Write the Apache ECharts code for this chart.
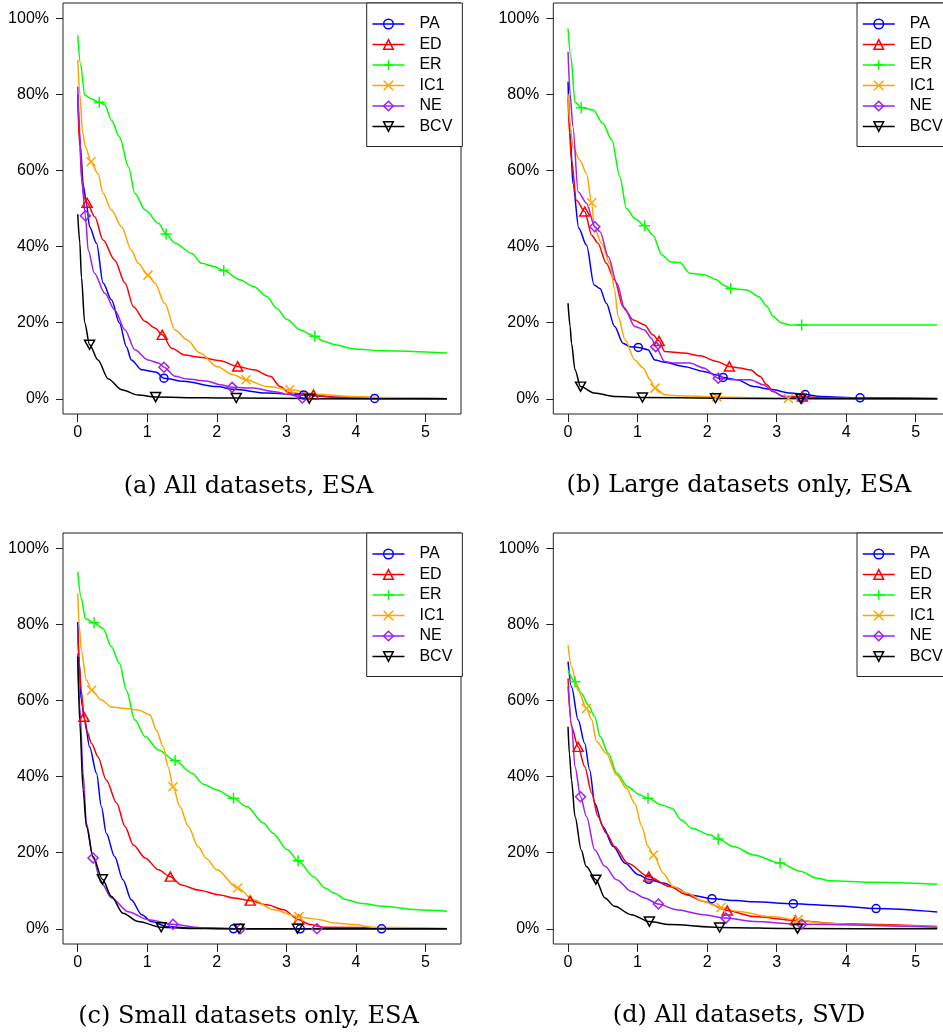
<!DOCTYPE html>
<html><head><meta charset="utf-8">
<script src="https://cdn.jsdelivr.net/npm/echarts@6/dist/echarts.min.js"></script>
<style>html,body{margin:0;padding:0;background:#fff}#c{width:943px;height:1034px}</style>
</head><body><div id="c"></div>
<script>
// ---------- data (x = value on the horizontal axis, y = percent) ----------
const seriesNames = ['PA','ED','ER','IC1','NE','BCV'];
const xTicks = [0,1,2,3,4,5];
const yTicks = [0,20,40,60,80,100];
const captions = ['(a) All datasets, ESA','(b) Large datasets only, ESA','(c) Small datasets only, ESA','(d) All datasets, SVD'];

// Panel (a)
const aPA  = [[0,80],[0.04,66],[0.08,56],[0.125,51.4],[0.17,45.2],[0.27,40.9],[0.365,30.4],[0.485,26],[0.6,19.9],[0.7,13.7],[0.77,10.2],[0.92,7.6],[1.13,7.0],[1.24,5.4],[1.52,4.6],[2.0,3.2],[2.24,2.5],[2.72,1.5],[3.25,1.0],[3.68,0.4],[4.27,0.1],[5.31,0]];
const aED  = [[0,79],[0.03,66],[0.06,57],[0.09,53.1],[0.135,51.5],[0.245,47.8],[0.365,41.7],[0.53,36.5],[0.68,30.4],[0.8,24.2],[0.97,20.3],[1.11,18.6],[1.215,16.8],[1.35,13.3],[1.54,11.5],[1.76,10.9],[2.05,10],[2.3,8.5],[2.53,7.6],[2.77,5.9],[2.91,3.2],[3.05,1.5],[3.39,1.0],[3.68,0.4],[5.31,0]];
const aER  = [[0,95.5],[0.04,88],[0.1,79.8],[0.2,78.8],[0.31,77.9],[0.39,77.2],[0.485,73.2],[0.6,68.8],[0.73,61],[0.82,54],[0.97,49.6],[1.16,46.1],[1.27,43.3],[1.4,40.9],[1.64,38.2],[1.78,35.6],[1.95,34.8],[2.1,33.7],[2.33,31.3],[2.53,29.5],[2.72,26.9],[2.86,23.8],[3.01,20.8],[3.2,18.1],[3.41,16.4],[3.54,15.1],[3.7,14.2],[3.97,13.1],[4.4,12.6],[5.31,12]];
const aIC1 = [[0,89],[0.03,80],[0.07,70],[0.11,66.2],[0.19,62.3],[0.29,59.2],[0.365,54],[0.485,49.6],[0.63,45.2],[0.77,39.1],[0.87,35.6],[1.01,32.5],[1.11,30.4],[1.25,25.1],[1.4,18.1],[1.57,15.5],[1.76,12],[2.0,8.5],[2.24,6.3],[2.42,5],[2.72,3.2],[3.05,2.4],[3.44,1.2],[3.92,0.6],[4.4,0.35],[5.31,0.1]];
const aNE  = [[0,82],[0.03,70],[0.06,57],[0.11,48.1],[0.15,39.1],[0.24,33],[0.39,27.7],[0.53,23.4],[0.68,18.1],[0.82,12.9],[1.01,10.2],[1.16,9.4],[1.24,8.3],[1.4,5.9],[1.57,5.2],[1.85,4.7],[2.05,3.7],[2.22,3],[2.53,2.8],[2.81,1.9],[3.05,1.1],[3.23,0.2],[3.5,0],[5.31,0]];
const aBCV = [[0,48.5],[0.03,41],[0.053,32],[0.1,20],[0.17,14.2],[0.29,10.2],[0.44,5.2],[0.63,2.4],[0.87,1],[1.12,0.45],[1.8,0.26],[2.28,0.2],[3.33,0.05],[5.31,0]];
const aPA_mk  = [[1.24,5.4],[3.25,1.0],[4.27,0.1]];
const aED_mk  = [[0.135,51.5],[1.215,16.8],[2.3,8.5],[3.39,1.1]];
const aER_mk  = [[0.31,77.9],[1.27,43.3],[2.1,33.7],[3.41,16.4]];
const aIC1_mk = [[0.19,62.3],[1.01,32.5],[2.42,5],[3.05,2.4]];
const aNE_mk  = [[0.11,48.1],[1.24,8.3],[2.22,3],[3.23,0.2]];
const aBCV_mk = [[0.17,14.2],[1.12,0.45],[2.28,0.2],[3.33,0.05]];

// Panel (b)
const bPA  = [[0,83.3],[0.03,70],[0.07,56.6],[0.155,44.8],[0.265,40.4],[0.375,29.9],[0.46,29],[0.55,25.1],[0.67,19],[0.79,14.6],[0.89,13.7],[1.01,13.5],[1.15,12.9],[1.25,10.2],[1.39,9.6],[1.66,8.5],[1.95,7.2],[2.14,6.3],[2.23,5.6],[2.43,5],[2.67,3.2],[2.91,2.5],[3.2,1.5],[3.41,1.1],[3.63,0.6],[4.2,0.26],[5.31,0.1]];
const bED  = [[0,79.2],[0.02,70],[0.05,62.7],[0.12,52.2],[0.24,49.2],[0.34,43],[0.43,40.9],[0.55,35.6],[0.67,31.2],[0.79,24.2],[0.94,20.7],[1.1,19.4],[1.22,16.8],[1.31,15.2],[1.39,12.4],[1.66,12],[1.9,11.3],[2.14,9.8],[2.32,8.5],[2.47,8.1],[2.62,7.6],[2.76,5.9],[2.86,3.7],[2.95,1.9],[3.1,0.6],[3.37,0.6],[3.6,0.3],[5.31,0]];
const bER  = [[0,97.3],[0.04,90],[0.1,78],[0.19,76.5],[0.36,75.9],[0.5,72.4],[0.63,68],[0.745,58.3],[0.84,50],[0.96,47.4],[1.1,45.5],[1.22,43],[1.35,37.8],[1.47,36],[1.61,35.8],[1.75,33],[1.95,32.6],[2.14,31.3],[2.23,29.9],[2.34,29],[2.57,28.6],[2.74,26.9],[2.86,24.3],[2.95,21.6],[3.07,19.9],[3.2,19.4],[3.36,19.4],[5.31,19.4]];
const bIC1 = [[0,80],[0.03,72],[0.07,66.2],[0.17,62.7],[0.265,59.2],[0.34,51.5],[0.375,45.2],[0.48,40.9],[0.6,35.6],[0.67,28.6],[0.72,21.6],[0.82,15.5],[0.96,10.2],[1.08,8.1],[1.18,5],[1.25,2.8],[1.39,1.05],[1.56,0.8],[2.14,0.5],[3.17,0.05],[5.31,0]];
const bNE  = [[0,91.2],[0.03,80],[0.07,71.5],[0.145,54.4],[0.265,51.4],[0.385,45.2],[0.46,43.9],[0.58,37.3],[0.7,30.4],[0.82,23.4],[0.96,19],[1.1,18.1],[1.2,15.9],[1.26,13.7],[1.39,9.8],[1.51,9.4],[1.75,9.4],[1.95,8.1],[2.16,5.4],[2.38,5],[2.62,5],[2.81,3.7],[2.95,1.9],[3.1,0.6],[3.36,0.1],[5.31,0]];
const bBCV = [[0,25.1],[0.03,19],[0.05,14.6],[0.1,7.6],[0.18,3.2],[0.38,1.5],[0.67,0.6],[1.07,0.35],[2.12,0.15],[3.35,0.05],[5.31,0]];
const bPA_mk  = [[1.01,13.5],[2.23,5.6],[3.41,1.1],[4.2,0.26]];
const bED_mk  = [[0.24,49.2],[1.31,15.2],[2.32,8.5],[3.37,0.6]];
const bER_mk  = [[0.19,76.5],[1.1,45.5],[2.34,29],[3.36,19.4]];
const bIC1_mk = [[0.34,51.5],[1.25,2.8],[2.14,0.5],[3.17,0.05]];
const bNE_mk  = [[0.385,45.2],[1.26,13.7],[2.16,5.4],[3.36,0.1]];
const bBCV_mk = [[0.18,3.2],[1.07,0.35],[2.12,0.15],[3.35,0.05]];

// Panel (c)
const cPA  = [[0,80.6],[0.02,70],[0.05,60.1],[0.1,54.9],[0.17,47.8],[0.27,40.9],[0.34,32.1],[0.41,25.1],[0.53,19],[0.65,12.9],[0.77,7.6],[0.92,3.7],[1.06,1.9],[1.28,0.6],[1.6,0.2],[2.24,0],[5.31,0]];
const cED  = [[0,78.5],[0.02,70],[0.05,62.7],[0.09,55.7],[0.125,52.2],[0.2,48.7],[0.29,45.2],[0.41,39.1],[0.56,33],[0.68,26.9],[0.8,22],[0.97,18.6],[1.16,15.5],[1.33,13.7],[1.49,11.5],[1.73,10.2],[2.05,8.9],[2.24,8.1],[2.48,7.4],[2.72,6.3],[2.96,5],[3.18,2.4],[3.34,1.1],[3.54,0.4],[5.31,0]];
const cER  = [[0,93.8],[0.05,87],[0.11,81.5],[0.235,80.4],[0.365,78.9],[0.485,74.1],[0.6,69.7],[0.7,62.7],[0.82,54.9],[0.97,50.5],[1.16,47],[1.4,44.2],[1.64,40.9],[1.81,38],[2.0,36.5],[2.24,34.3],[2.43,32.1],[2.67,27.8],[2.81,25.1],[3.01,20.8],[3.17,17.9],[3.39,13.7],[3.56,10.7],[3.68,9.4],[3.87,7.6],[4.06,6.7],[4.4,5.9],[4.88,5],[5.31,4.6]];
const cIC1 = [[0,88.1],[0.02,80],[0.05,73.2],[0.125,65.4],[0.2,62.7],[0.34,60.1],[0.485,58.3],[0.68,57.9],[0.87,57.5],[1.04,56.2],[1.13,52.2],[1.23,47.8],[1.3,42.6],[1.37,37.3],[1.47,32.1],[1.59,26.9],[1.73,21.6],[1.85,18.5],[2.0,15.5],[2.3,10.7],[2.53,7.6],[2.81,5],[3.18,3.2],[3.29,2.8],[3.49,2.4],[3.68,1.5],[3.97,1.1],[4.26,0.4],[5.31,0.1]];
const cNE  = [[0,72.4],[0.03,58.3],[0.077,40.9],[0.125,27.7],[0.22,18.6],[0.34,12],[0.485,8.1],[0.725,4.5],[1.01,2.4],[1.37,1.2],[1.76,0.3],[2.34,0],[3.44,0],[5.31,0]];
const cBCV = [[0,71.5],[0.03,54],[0.077,36.5],[0.125,26.9],[0.22,19],[0.355,13],[0.485,8.5],[0.65,4.1],[0.87,1.9],[1.2,0.4],[1.6,0.1],[2.32,0],[5.31,0]];
const cPA_mk  = [[2.24,0],[3.2,0],[4.37,0]];
const cED_mk  = [[0.09,55.7],[1.33,13.7],[2.48,7.4],[3.18,2.4]];
const cER_mk  = [[0.235,80.4],[1.4,44.2],[2.24,34.3],[3.17,17.9]];
const cIC1_mk = [[0.2,62.7],[1.37,37.3],[2.3,10.7],[3.18,3.2]];
const cNE_mk  = [[0.22,18.6],[1.37,1.2],[2.34,0],[3.44,0]];
const cBCV_mk = [[0.355,13],[1.2,0.4],[2.32,0],[3.16,0]];

// Panel (d)
const dPA  = [[0,70.2],[0.05,63.6],[0.145,54.9],[0.24,48.7],[0.31,41.7],[0.385,33],[0.5,26.9],[0.65,21.6],[0.82,17.2],[1.01,14.2],[1.16,13],[1.37,12],[1.56,10.7],[1.75,8.9],[2.07,7.9],[2.43,7.4],[2.67,7.1],[3.24,6.6],[3.87,6],[4.43,5.3],[5.31,4.4]];
const dED  = [[0,65.8],[0.05,53.1],[0.145,47.8],[0.24,42.6],[0.34,35.6],[0.43,29.5],[0.55,25.1],[0.67,21.6],[0.86,17.2],[1.16,13.7],[1.46,11.1],[1.71,8.9],[1.95,7.2],[2.29,4.8],[2.67,3.2],[3.27,2.2],[3.87,1.3],[5.31,0.6]];
const dER  = [[0,68],[0.1,64.9],[0.19,61.9],[0.29,58.8],[0.385,55.7],[0.46,50.5],[0.58,46.1],[0.7,40.9],[0.86,37.3],[1.03,35.2],[1.15,34.3],[1.35,32.5],[1.49,31.7],[1.63,28.6],[1.78,26.4],[2.04,24.7],[2.16,23.6],[2.38,21.6],[2.67,19.4],[3.05,17.3],[3.34,15.1],[3.58,13.3],[3.77,12.6],[4.35,12.2],[5.31,11.7]];
const dIC1 = [[0,74.5],[0.05,68.8],[0.145,62.7],[0.265,57.9],[0.34,54.9],[0.41,49.2],[0.55,46.1],[0.7,40.4],[0.84,36.9],[0.96,33],[1.06,26.9],[1.15,21.6],[1.23,19.4],[1.37,14.6],[1.51,11.1],[1.71,9.4],[1.95,7.2],[2.2,5.6],[2.43,4.6],[2.91,3.2],[3.31,2.4],[3.63,1.5],[4.35,0.9],[5.31,0.5]];
const dNE  = [[0,63.6],[0.05,54],[0.1,42.6],[0.18,34.7],[0.265,29.5],[0.385,20.7],[0.53,16.4],[0.7,12.9],[0.91,9.8],[1.1,8.1],[1.3,6.5],[1.56,5],[1.95,3.7],[2.27,2.8],[2.67,1.9],[3.36,1.2],[5.31,0.4]];
const dBCV = [[0,53.1],[0.02,46],[0.05,39.1],[0.1,29.5],[0.19,20.7],[0.26,16.4],[0.4,12.9],[0.53,8.1],[0.67,5.9],[0.91,3.7],[1.17,1.9],[1.46,1.1],[2.18,0.35],[3.3,0.05],[5.31,0]];
const dPA_mk  = [[1.16,13],[2.07,7.9],[3.24,6.6],[4.43,5.3]];
const dED_mk  = [[0.145,47.8],[1.16,13.7],[2.29,4.8],[3.27,2.2]];
const dER_mk  = [[0.1,64.9],[1.15,34.3],[2.16,23.6],[3.05,17.3]];
const dIC1_mk = [[0.265,57.9],[1.23,19.4],[2.2,5.6],[3.31,2.4]];
const dNE_mk  = [[0.18,34.7],[1.3,6.5],[2.27,2.8],[3.36,1.2]];
const dBCV_mk = [[0.4,12.9],[1.17,1.9],[2.18,0.35],[3.3,0.05]];

const panelCurves = [
  [aPA,aED,aER,aIC1,aNE,aBCV],
  [bPA,bED,bER,bIC1,bNE,bBCV],
  [cPA,cED,cER,cIC1,cNE,cBCV],
  [dPA,dED,dER,dIC1,dNE,dBCV]
];
const panelMarks = [
  [aPA_mk,aED_mk,aER_mk,aIC1_mk,aNE_mk,aBCV_mk],
  [bPA_mk,bED_mk,bER_mk,bIC1_mk,bNE_mk,bBCV_mk],
  [cPA_mk,cED_mk,cER_mk,cIC1_mk,cNE_mk,cBCV_mk],
  [dPA_mk,dED_mk,dER_mk,dIC1_mk,dNE_mk,dBCV_mk]
];

// ---------- styling ----------
const colors = ['#0000FF','#FF0000','#00FF00','#FFA500','#A020F0','#000000'];
const symbols = ['circle','path://M5 0L10 8.66L0 8.66Z','path://M5 0L5 10M0 5L10 5','path://M0 0L10 10M10 0L0 10','path://M5 0L10 5L5 10L0 5Z','path://M0 0L10 0L5 8.66Z'];
const symSizes = [8,[10,9],11,9,10,[10,9]];
const panels = [{l:63,t:3},{l:553.3,t:3},{l:63,t:533},{l:553.3,t:533}];
const capPos = [[248.5,487],[739,486],[248.5,1016.5],[739,1016]];
const W = 398, H = 411;
const tickFont = 'Liberation Sans';

const grids = [], xAxes = [], yAxes = [], legends = [], lines = [], marks = [], graphics = [];
panels.forEach((p, i) => {
  grids.push({left:p.l, top:p.t, width:W, height:H, show:true, borderColor:'#222', borderWidth:1,
              backgroundColor:'transparent', containLabel:false, outerBoundsMode:'none'});
  xAxes.push({type:'value', gridIndex:i, position:'bottom', min:-0.212, max:5.512,
    axisLine:{show:false, onZero:false}, splitLine:{show:false},
    axisTick:{show:true, inside:false, length:8, customValues:xTicks, lineStyle:{color:'#222', width:1}},
    axisLabel:{customValues:xTicks, margin:11, fontFamily:tickFont, fontSize:16, color:'#000'}});
  yAxes.push({type:'value', gridIndex:i, position:'left', min:-4, max:104,
    axisLine:{show:false, onZero:false}, splitLine:{show:false},
    axisTick:{show:true, inside:false, length:7, customValues:yTicks, lineStyle:{color:'#222', width:1}},
    axisLabel:{customValues:yTicks, margin:14, fontFamily:tickFont, fontSize:16, color:'#000', formatter:'{value}%'}});
  legends.push({orient:'vertical', left:p.l + 303.7, top:p.t, padding:[13,10,12,5],
    itemWidth:32, itemHeight:12, itemGap:4.5, borderColor:'#222', borderWidth:1, borderRadius:0,
    backgroundColor:'#fff', selectedMode:false, data:seriesNames,
    itemStyle:{color:'rgba(0,0,0,0)', borderWidth:1.5},
    lineStyle:{width:1.5},
    textStyle:{fontFamily:tickFont, fontSize:16, color:'#000', lineHeight:16, padding:[0,0,0,10]}});
  seriesNames.forEach((name, k) => {
    lines.push({type:'line', name, xAxisIndex:i, yAxisIndex:i, data:panelCurves[i][k],
      showSymbol:false, symbol:symbols[k], symbolSize:symSizes[k],
      smooth:0.3, smoothMonotone:'x', silent:true, z:2,
      lineStyle:{color:colors[k], width:1.5},
      itemStyle:{color:'rgba(0,0,0,0)', borderColor:colors[k], borderWidth:1.5}});
    marks.push({type:'scatter', name, xAxisIndex:i, yAxisIndex:i, data:panelMarks[i][k],
      symbol:symbols[k], symbolSize:symSizes[k], silent:true, z:3,
      itemStyle:{color:'rgba(0,0,0,0)', borderColor:colors[k], borderWidth:1.5, opacity:1}});
  });
  graphics.push({type:'text', x:capPos[i][0], y:capPos[i][1],
    style:{text:captions[i], font:'24px "DejaVu Serif"', fill:'#000', align:'center', verticalAlign:'middle'}});
});

const chart = echarts.init(document.getElementById('c'), null, {renderer:'canvas'});
chart.setOption({
  animation:false,
  backgroundColor:'#fff',
  grid:grids, xAxis:xAxes, yAxis:yAxes, legend:legends,
  series:lines.concat(marks),
  graphic:graphics
});
</script></body></html>
